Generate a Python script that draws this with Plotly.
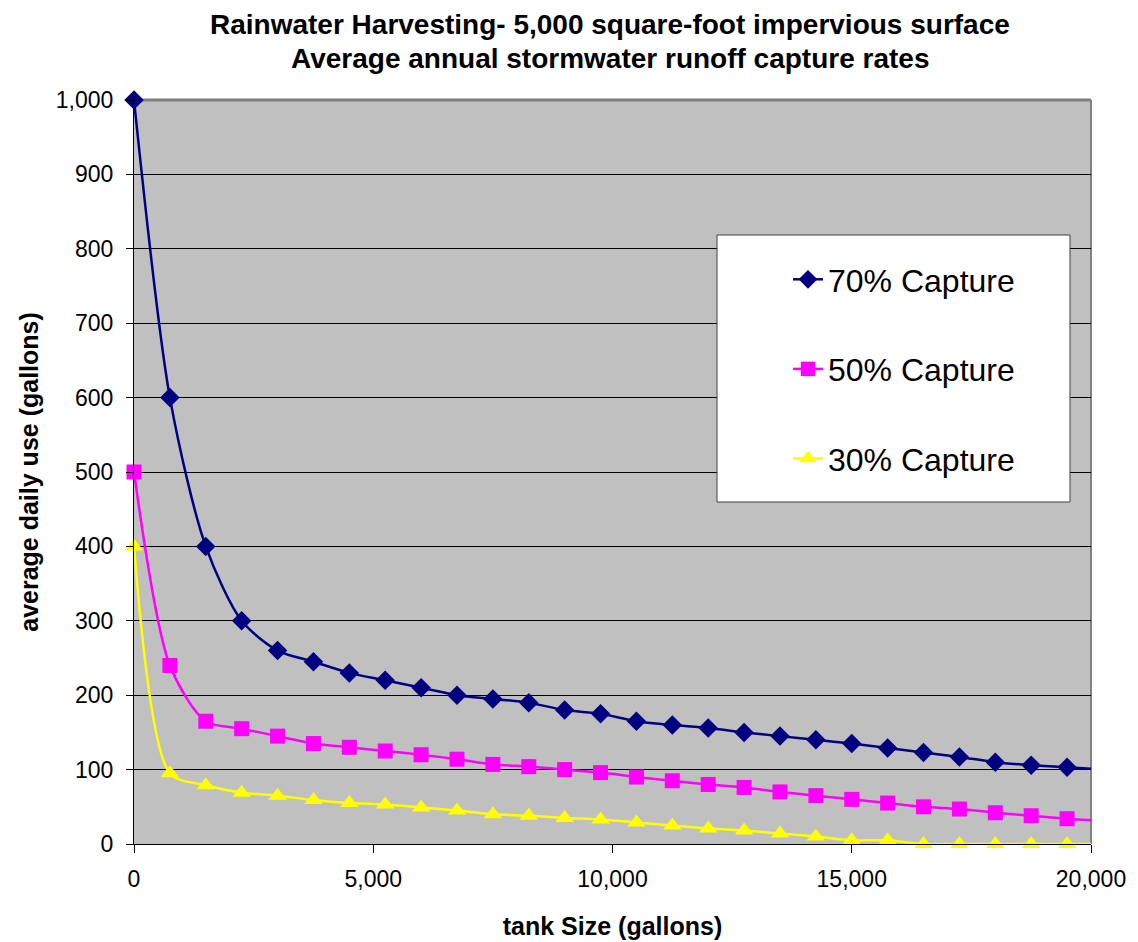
import plotly.graph_objects as go

# tank size (gallons) for each point
tank_size = [0, 750, 1500, 2250, 3000, 3750, 4500, 5250, 6000, 6750, 7500, 8250, 9000,
             9750, 10500, 11250, 12000, 12750, 13500, 14250, 15000, 15750, 16500, 17250,
             18000, 18750, 19500, 20250]

# average daily use (gallons)
capture_70 = [1000, 600, 400, 300, 260, 245, 230, 220, 210, 200, 195, 190, 180,
              175, 165, 160, 156, 150, 145, 140, 135, 129, 123, 117,
              110, 106, 103, 100]
capture_50 = [500, 240, 165, 155, 145, 135, 130, 125, 120, 114, 107, 104, 100,
              96, 90, 85, 80, 76, 70, 65, 60, 55, 50, 47,
              42, 38, 34, 31]
capture_30 = [400, 95, 79, 69, 65, 59, 55, 53, 49, 45, 40, 38, 35,
              33, 29, 25, 21, 18, 14, 10, 5, 5, 0, 0,
              0, 0, 0, 0]

names = ['70% Capture', '50% Capture', '30% Capture']
colors = ['#000080', '#FF00FF', '#FFFF00']
symbols = ['diamond', 'square', 'triangle-up']
sizes = [15, 15, 16]

title_lines = ['Rainwater Harvesting- 5,000 square-foot impervious surface',
               'Average annual stormwater runoff capture rates']

FONT = 'Liberation Sans, Arial, sans-serif'

# page body has an 8px margin, so the figure is a bit smaller than the window
W, H = 1130, 934
L, R, T, B = 126, 47, 92, 98
PW = W - L - R   # plot width in px
PH = H - T - B   # plot height in px

fig = go.Figure()

series = [capture_70, capture_50, capture_30]
for vals, nm, c, sym, sz in zip(series, names, colors, symbols, sizes):
    # last point sits past the axis end, draw it without a marker
    fig.add_trace(go.Scatter(
        x=tank_size, y=vals, name=nm, legendgroup=nm,
        mode='lines+markers', cliponaxis=False,
        line=dict(color=c, width=2.5, shape='spline', smoothing=0.8),
        marker=dict(symbol=sym, size=[sz] * (len(vals) - 1) + [0], color=c,
                    opacity=1, line=dict(width=0)),
    ))

# gray frame on top/right of plot area (Excel style)
fig.add_shape(type='line', xref='paper', yref='paper', x0=0, x1=1, y0=1, y1=1,
              line=dict(color='#808080', width=3), layer='between')
fig.add_shape(type='line', xref='paper', yref='paper', x0=1, x1=1, y0=0, y1=1,
              line=dict(color='#808080', width=2), layer='between')

# legend box (pixel positions taken from the window, plot spans 134..1091 / 100..844)
fig.add_shape(type='rect', xref='paper', yref='paper',
              x0=(717 - 134) / PW, x1=(1070 - 134) / PW,
              y0=(844 - 502) / PH, y1=(844 - 235) / PH,
              fillcolor='white', line=dict(color='#404040', width=1), layer='above')

# two-line bold title
for txt, ypix in zip(title_lines, [25, 58]):
    fig.add_annotation(
        text=f'<b>{txt}</b>', xref='paper', yref='paper',
        x=(610 - 134) / PW, y=(844 - ypix) / PH,
        xanchor='center', yanchor='middle', showarrow=False,
        font=dict(family=FONT, size=28, color='black'),
    )

fig.update_layout(
    width=W, height=H,
    margin=dict(l=L, r=R, t=T, b=B),
    paper_bgcolor='white', plot_bgcolor='#C0C0C0',
    font=dict(family=FONT, size=23, color='black'),
    legend=dict(
        x=(788 - 134) / PW, xanchor='left',
        y=(844 - 252) / PH, yanchor='top',
        bgcolor='rgba(0,0,0,0)', borderwidth=0,
        font=dict(family=FONT, size=32, color='black'),
        tracegroupgap=45,
    ),
    showlegend=True,
)

fig.update_xaxes(
    range=[0, 20000], tickvals=[0, 5000, 10000, 15000, 20000], tickformat=',',
    showgrid=False, zeroline=False, automargin=False,
    showline=True, linecolor='black', linewidth=1,
    ticks='outside', ticklen=8, tickcolor='black', ticklabelstandoff=6,
    title=dict(text='<b>tank Size (gallons)</b>', standoff=26,
               font=dict(family=FONT, size=25)),
)
fig.update_yaxes(
    range=[0, 1000], dtick=100, tickformat=',',
    showgrid=True, gridcolor='black', gridwidth=1, zeroline=False, automargin=False,
    showline=True, linecolor='black', linewidth=1,
    ticks='outside', ticklen=7, tickcolor='black', ticklabelstandoff=8,
    title=dict(text='<b>average daily use (gallons)</b>', standoff=10,
               font=dict(family=FONT, size=25)),
)

fig.write_html('out.html')
